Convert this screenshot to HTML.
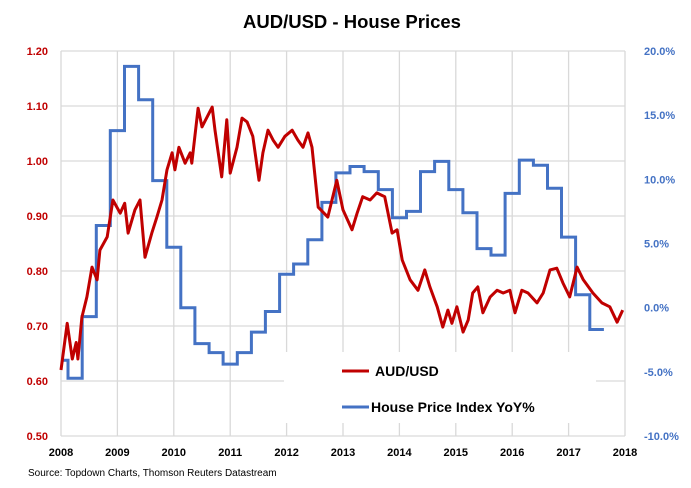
<!DOCTYPE html>
<html><head><meta charset="utf-8"><style>
body{margin:0;background:#fff;}
svg{display:block;font-family:"Liberation Sans",Arial,sans-serif;}
</style></head><body>
<svg id="chart" width="691" height="488" viewBox="0 0 691 488">
<text x="352" y="28" text-anchor="middle" font-size="18.5" font-weight="bold" fill="#000">AUD/USD - House Prices</text>
<g id="grid"></g>
<g id="axes"></g>
<rect x="284" y="352" width="312" height="71" fill="#fff"/>
<g id="series"></g>
<g>
<line x1="342" y1="371" x2="369" y2="371" stroke="#c00000" stroke-width="3"/>
<text x="375" y="376" font-size="14" font-weight="bold">AUD/USD</text>
<line x1="342" y1="407" x2="369" y2="407" stroke="#4472c4" stroke-width="3"/>
<text x="371" y="412" font-size="14" font-weight="bold">House Price Index YoY%</text>
</g>
<text x="28" y="476" font-size="10" fill="#000">Source: Topdown Charts, Thomson Reuters Datastream</text>
</svg>
<script>
const audYears=[2008.00,2008.11,2008.20,2008.27,2008.30,2008.37,2008.46,2008.55,2008.64,2008.69,2008.82,2008.92,2009.05,2009.13,2009.19,2009.31,2009.40,2009.49,2009.61,2009.70,2009.79,2009.88,2009.97,2010.02,2010.09,2010.20,2010.29,2010.32,2010.43,2010.50,2010.68,2010.73,2010.85,2010.94,2011.00,2011.12,2011.21,2011.30,2011.40,2011.51,2011.58,2011.67,2011.76,2011.85,2011.97,2012.10,2012.20,2012.29,2012.38,2012.45,2012.56,2012.73,2012.89,2013.00,2013.16,2013.25,2013.35,2013.48,2013.60,2013.74,2013.87,2013.96,2014.05,2014.19,2014.33,2014.45,2014.54,2014.67,2014.77,2014.86,2014.93,2015.02,2015.13,2015.22,2015.30,2015.39,2015.48,2015.61,2015.73,2015.84,2015.96,2016.05,2016.17,2016.28,2016.44,2016.55,2016.67,2016.79,2016.90,2017.02,2017.15,2017.26,2017.43,2017.59,2017.73,2017.86,2017.96];
const audValues=[0.62,0.705,0.64,0.67,0.64,0.716,0.753,0.807,0.784,0.838,0.862,0.929,0.905,0.923,0.869,0.911,0.929,0.825,0.869,0.898,0.929,0.984,1.015,0.984,1.025,0.996,1.015,0.996,1.096,1.062,1.098,1.056,0.971,1.075,0.978,1.025,1.078,1.071,1.045,0.965,1.015,1.056,1.038,1.025,1.045,1.056,1.038,1.025,1.051,1.025,0.916,0.898,0.965,0.911,0.875,0.905,0.935,0.929,0.942,0.935,0.869,0.875,0.82,0.784,0.765,0.802,0.771,0.735,0.698,0.729,0.705,0.735,0.689,0.711,0.76,0.771,0.724,0.753,0.765,0.76,0.765,0.724,0.765,0.76,0.742,0.76,0.802,0.805,0.778,0.753,0.807,0.784,0.76,0.742,0.735,0.707,0.729];
const hpiStart=2007.875;
const hpiValues=[-4.1,-5.5,-0.7,6.4,13.8,18.8,16.2,9.9,4.7,0.0,-2.8,-3.5,-4.4,-3.5,-1.9,-0.3,2.6,3.4,5.3,8.2,10.5,11.0,10.6,9.2,7.0,7.5,10.6,11.4,9.2,7.4,4.6,4.1,8.9,11.5,11.1,9.3,5.5,1.0,-1.7];
const leftTicks=[0.50,0.60,0.70,0.80,0.90,1.00,1.10,1.20];
const rightTicks=[-10,-5,0,5,10,15,20];
const yearTicks=[2008,2009,2010,2011,2012,2013,2014,2015,2016,2017,2018];

const NS="http://www.w3.org/2000/svg";
const X0=61,X1=625,YT=51,YB=436;
const xs=y=>X0+(y-2008)/10*(X1-X0);
const yl=v=>YB-(v-0.5)/0.7*(YB-YT);
const yr=v=>YB-(v+10)/30*(YB-YT);
function mk(tag,attrs,parent){const e=document.createElementNS(NS,tag);for(const k in attrs)e.setAttribute(k,attrs[k]);parent.appendChild(e);return e;}
const grid=document.getElementById('grid'),axes=document.getElementById('axes'),series=document.getElementById('series');
leftTicks.forEach(t=>{
  const l=mk('line',{x1:X0,x2:X1,y1:yl(t),y2:yl(t),stroke:'#d9d9d9','stroke-width':1.3},grid);
  
  
  const tx=mk('text',{x:48,y:yl(t)+4,'text-anchor':'end','font-size':11,'font-weight':'bold',fill:'#c00000'},axes);
  tx.textContent=t.toFixed(2);
  
  
});
rightTicks.forEach(t=>{
  const tx=mk('text',{x:644,y:yr(t)+4,'font-size':11,'font-weight':'bold',fill:'#4472c4'},axes);
  tx.textContent=t.toFixed(1)+'%';
  
  
});
yearTicks.forEach(t=>{
  const l=mk('line',{x1:xs(t),x2:xs(t),y1:YT,y2:YB,stroke:'#d9d9d9','stroke-width':1.3},grid);
  
  
  const tx=mk('text',{x:xs(t),y:456,'text-anchor':'middle','font-size':11,'font-weight':'bold',fill:'#000'},axes);
  tx.textContent=t;
  
  
});
let d='';
hpiValues.forEach((v,i)=>{
  const a=Math.max(2008,hpiStart+i*0.25),b=hpiStart+(i+1)*0.25;
  d+=(i===0?'M':'L')+xs(a).toFixed(1)+','+yr(v).toFixed(1)+'L'+xs(b).toFixed(1)+','+yr(v).toFixed(1);
});
const hp=mk('path',{d:d,fill:'none',stroke:'#4472c4','stroke-width':3},series);


let d2='';
audValues.forEach((v,i)=>{d2+=(i===0?'M':'L')+xs(audYears[i]).toFixed(1)+','+yl(v).toFixed(1);});
const ap=mk('path',{d:d2,fill:'none',stroke:'#c00000','stroke-width':3,'stroke-linejoin':'round'},series);


</script>
</body></html>
